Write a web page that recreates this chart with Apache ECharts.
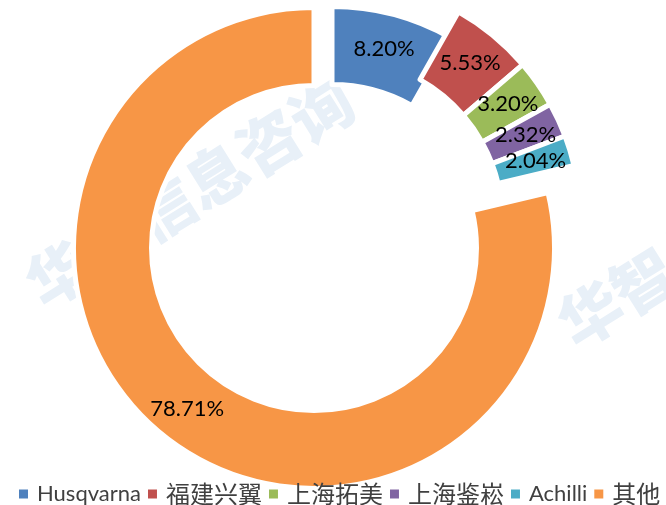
<!DOCTYPE html>
<html>
<head>
<meta charset="utf-8">
<script src="https://cdn.jsdelivr.net/npm/echarts@6/dist/echarts.min.js"></script>
<style>
html,body{margin:0;padding:0;background:#fff;}
#chart{width:666px;height:505px;}
</style>
</head>
<body>
<div id="chart"></div>
<script>
// ---- data ----
const categories = ['Husqvarna', '福建兴翼', '上海拓美', '上海鉴崧', 'Achilli', '其他'];
const shares = [8.20, 5.53, 3.20, 2.32, 2.04, 78.71];
const colors = ['#4f81bd', '#c0504d', '#9bbb59', '#8064a2', '#4bacc6', '#f79646'];

// ---- layout: which ring piece (exploded group) each slice belongs to ----
const pieceOf = [1, 2, 2, 2, 2, 0];
const pieceCenters = [[314, 248], [332, 247], [340, 221]];

const chart = echarts.init(document.getElementById('chart'), null, {renderer: 'canvas'});

function buildSeries(piece) {
  return {
    type: 'pie',
    silent: true,
    center: pieceCenters[piece],
    radius: [162.5, 240.5],
    startAngle: 90,
    clockwise: true,
    avoidLabelOverlap: false,
    labelLine: {show: false},
    emphasis: {disabled: true},
    data: categories.map((name, i) => {
      const mine = pieceOf[i] === piece;
      return {
        name: name,
        value: shares[i],
        itemStyle: mine
          ? {color: colors[i], borderColor: '#ffffff', borderWidth: 5}
          : {color: 'rgba(0,0,0,0)', borderWidth: 0},
        label: {show: mine}
      };
    }),
    label: {
      position: 'inside',
      formatter: p => p.value.toFixed(2) + '%',
      color: '#000000',
      fontFamily: 'Lato',
      fontSize: 22
    }
  };
}

const option = {
  animation: false,
  backgroundColor: '#ffffff',
  graphic: [
    {
      type: 'text', z: -10, x: 190, y: 192, rotation: 32 * Math.PI / 180,
      style: {text: '华智信息咨询', fontSize: 62, fontWeight: 900, fontFamily: 'Noto Sans CJK SC',
              fill: '#e8f0f8', textAlign: 'center', textVerticalAlign: 'middle'}
    },
    {
      type: 'text', z: -10, x: 722, y: 232, rotation: 32 * Math.PI / 180,
      style: {text: '华智信息咨询', fontSize: 62, fontWeight: 900, fontFamily: 'Noto Sans CJK SC',
              fill: '#e8f0f8', textAlign: 'center', textVerticalAlign: 'middle'}
    }
  ],
  legend: {
    left: 14,
    top: 477,
    orient: 'horizontal',
    icon: 'rect',
    itemWidth: 9,
    itemHeight: 9,
    itemGap: 7,
    itemStyle: {borderWidth: 0},
    data: categories.map((name, i) => ({name: name, itemStyle: {color: colors[i], borderWidth: 0}})),
    formatter: name => /[\u4e00-\u9fff]/.test(name) ? '{c|' + name + '}' : '{l|' + name + '}',
    textStyle: {
      rich: {
        l: {fontFamily: 'Lato', fontSize: 22, color: '#404040', padding: [0, 0, 0, 4]},
        c: {fontFamily: 'Noto Sans CJK SC', fontSize: 24, color: '#404040', padding: [0, 0, 0, 4]}
      }
    }
  },
  series: [buildSeries(0), buildSeries(1), buildSeries(2)]
};

chart.setOption(option);
</script>
</body>
</html>
